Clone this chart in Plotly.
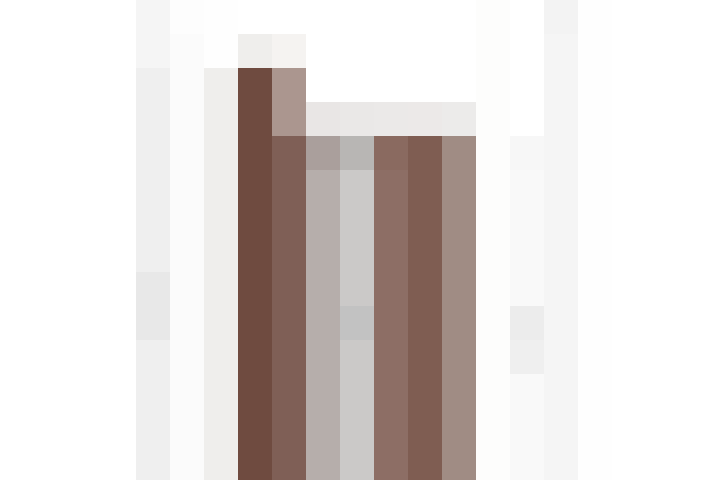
import plotly.graph_objects as go

# Cell colours, one list per column (top row first), 15 rows each
W = "#ffffff"
N_ROWS = 15
col_0 = [W] * N_ROWS
col_1 = [W] * N_ROWS
col_2 = [W] * N_ROWS
col_3 = [W] * N_ROWS
col_4 = ["#f5f5f5"] * 2 + ["#efefef"] * 6 + ["#e8e8e8"] * 2 + ["#efefef"] * 5
col_5 = ["#fdfdfd"] + ["#fbfbfb"] * 14
col_6 = ["#fefefe"] * 2 + ["#efeeec"] * 13
col_7 = [W, "#efeeec"] + ["#6f4b40"] * 13
col_8 = [W, "#f5f3f1", "#ab968f", "#ab968f"] + ["#7f5f56"] * 11
col_9 = [W, W, W, "#e9e6e5", "#aa9f9c"] + ["#b6aeab"] * 10
col_10 = [W, W, W, "#eae8e7", "#b8b6b4"] + ["#cbc9c8"] * 4 + ["#c2c2c2"] + ["#cbc9c8"] * 5
col_11 = [W, W, W, "#ebe9e8", "#8a6a60"] + ["#8d6e65"] * 10
col_12 = [W, W, W, "#ece9e8"] + ["#7f5d52"] * 11
col_13 = [W, W, W, "#ecebea"] + ["#a08c84"] * 11
col_14 = ["#fdfdfc"] * N_ROWS
col_15 = [W] * 4 + ["#f7f7f7"] + ["#f9f9f9"] * 4 + ["#ececec", "#efefef"] + ["#f9f9f9"] * 4
col_16 = ["#f3f3f3"] + ["#f5f5f5"] * 14
col_17 = ["#fefefe"] * N_ROWS
col_18 = [W] * N_ROWS
col_19 = [W] * N_ROWS
col_20 = [W] * N_ROWS
col_21 = [W] * N_ROWS

columns = [col_0, col_1, col_2, col_3, col_4, col_5, col_6, col_7, col_8, col_9,
           col_10, col_11, col_12, col_13, col_14, col_15, col_16, col_17, col_18,
           col_19, col_20, col_21]


def hex_rgb(h):
    h = h.lstrip("#")
    return [int(h[i:i + 2], 16) for i in (0, 2, 4)]


z = [[hex_rgb(col[r]) for col in columns] for r in range(N_ROWS)]

fig = go.Figure(go.Image(z=z, hoverinfo="skip"))

CELL = 34
fig.update_layout(
    width=720, height=480,
    margin=dict(l=0, r=0, t=0, b=0),
    paper_bgcolor="white", plot_bgcolor="white",
    xaxis=dict(range=[-0.5, -0.5 + 720 / CELL], visible=False, showgrid=False),
    yaxis=dict(range=[-0.5 + 480 / CELL, -0.5], visible=False, showgrid=False),
    showlegend=False,
)

fig.write_html(
    "out.html",
    config={"displayModeBar": False},
    post_script="document.body.style.margin='0';document.body.style.overflow='hidden';",
)
